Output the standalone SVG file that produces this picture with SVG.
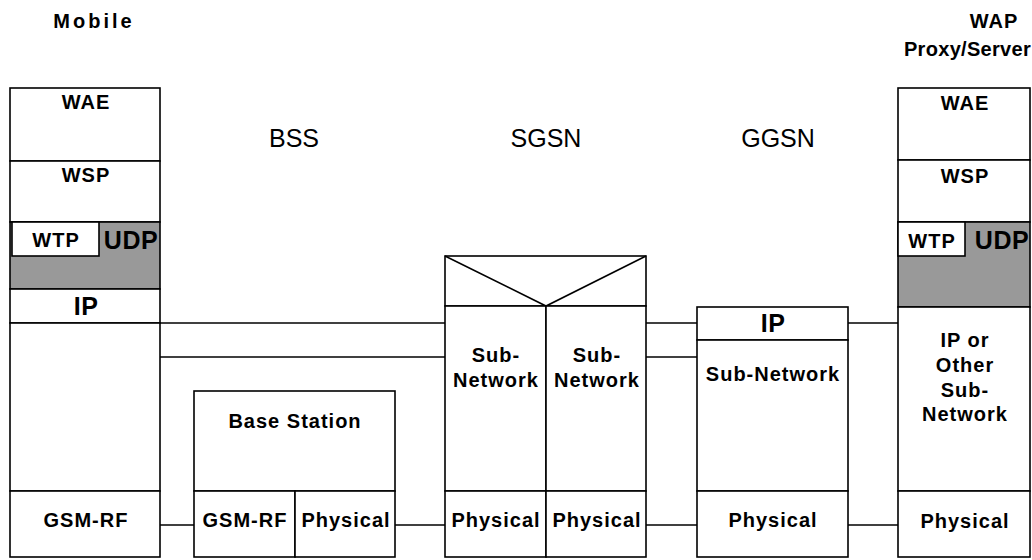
<svg xmlns="http://www.w3.org/2000/svg" width="1032" height="560" viewBox="0 0 1032 560">
<style>
.box{fill:#fff;stroke:#000;stroke-width:1.6}
.gray{fill:#999;stroke:#000;stroke-width:1.6}
.ln{stroke:#000;stroke-width:1.6;fill:none}
text{font-family:"Liberation Sans",Arial,sans-serif;fill:#000;text-anchor:middle}
.b{font-weight:bold;font-size:20px;letter-spacing:1px}
.big{font-weight:bold;font-size:25px;letter-spacing:0.5px}
.t{font-weight:bold;font-size:20px;letter-spacing:1px}
.r{font-size:25px}
</style>
<rect width="1032" height="560" fill="#fff"/>
<g id="connectors">
<line class="ln" x1="160" y1="323" x2="445" y2="323"/>
<line class="ln" x1="160" y1="357" x2="445" y2="357"/>
<line class="ln" x1="646" y1="323" x2="697" y2="323"/>
<line class="ln" x1="646" y1="357" x2="697" y2="357"/>
<line class="ln" x1="848" y1="323" x2="898" y2="323"/>
<line class="ln" x1="160" y1="525" x2="194" y2="525"/>
<line class="ln" x1="395" y1="525" x2="445" y2="525"/>
<line class="ln" x1="646" y1="525" x2="697" y2="525"/>
<line class="ln" x1="848" y1="525" x2="898" y2="525"/>
</g>
<g id="titles">
<text class="t" x="94" y="28" style="letter-spacing:3px">Mobile</text>
<text class="t" x="994" y="28">WAP</text>
<text class="t" x="1031" y="56" style="text-anchor:end;letter-spacing:0.3px">Proxy/Server</text>
<text class="r" x="294" y="147">BSS</text>
<text class="r" x="546" y="147">SGSN</text>
<text class="r" x="778" y="147">GGSN</text>
</g>
<g id="mobile">
<rect class="box" x="10" y="88" width="150" height="73"/>
<rect class="box" x="10" y="161" width="150" height="61"/>
<rect class="gray" x="10" y="222" width="150" height="67"/>
<rect class="box" x="12" y="222" width="87" height="34"/>
<rect class="box" x="10" y="289" width="150" height="34"/>
<rect class="box" x="10" y="323" width="150" height="168"/>
<rect class="box" x="10" y="491" width="150" height="66"/>
<text class="b" x="86" y="109">WAE</text>
<text class="b" x="86" y="182">WSP</text>
<text class="b" x="56" y="247">WTP</text>
<text class="big" x="131" y="249">UDP</text>
<text class="big" x="86" y="315">IP</text>
<text class="b" x="86" y="527">GSM-RF</text>
</g>
<g id="base-station">
<rect class="box" x="194" y="391" width="201" height="100"/>
<rect class="box" x="194" y="491" width="101" height="66"/>
<rect class="box" x="295" y="491" width="100" height="66"/>
<text class="b" x="295" y="428">Base Station</text>
<text class="b" x="245" y="527">GSM-RF</text>
<text class="b" x="346" y="527">Physical</text>
</g>
<g id="sgsn">
<rect class="box" x="445" y="256" width="201" height="50"/>
<polyline class="ln" points="445,256 546,306 646,256"/>
<rect class="box" x="445" y="306" width="101" height="185"/>
<rect class="box" x="546" y="306" width="100" height="185"/>
<rect class="box" x="445" y="491" width="101" height="66"/>
<rect class="box" x="546" y="491" width="100" height="66"/>
<text class="b" x="496" y="362">Sub-</text>
<text class="b" x="496" y="387">Network</text>
<text class="b" x="597" y="362">Sub-</text>
<text class="b" x="597" y="387">Network</text>
<text class="b" x="496" y="527">Physical</text>
<text class="b" x="597" y="527">Physical</text>
</g>
<g id="ggsn">
<rect class="box" x="697" y="307" width="151" height="33"/>
<rect class="box" x="697" y="340" width="151" height="151"/>
<rect class="box" x="697" y="491" width="151" height="66"/>
<text class="big" x="773" y="332">IP</text>
<text class="b" x="773" y="381">Sub-Network</text>
<text class="b" x="773" y="527">Physical</text>
</g>
<g id="wap-server">
<rect class="box" x="898" y="88" width="132" height="72"/>
<rect class="box" x="898" y="160" width="132" height="62"/>
<rect class="gray" x="898" y="222" width="132" height="85"/>
<rect class="box" x="898" y="222" width="67" height="34"/>
<rect class="box" x="898" y="307" width="132" height="184"/>
<rect class="box" x="898" y="491" width="132" height="66"/>
<text class="b" x="965" y="110">WAE</text>
<text class="b" x="965" y="183">WSP</text>
<text class="b" x="932" y="248">WTP</text>
<text class="big" x="1002" y="249">UDP</text>
<text class="b" x="965" y="347">IP or</text>
<text class="b" x="965" y="372">Other</text>
<text class="b" x="965" y="397">Sub-</text>
<text class="b" x="965" y="421">Network</text>
<text class="b" x="965" y="528">Physical</text>
</g>
</svg>
